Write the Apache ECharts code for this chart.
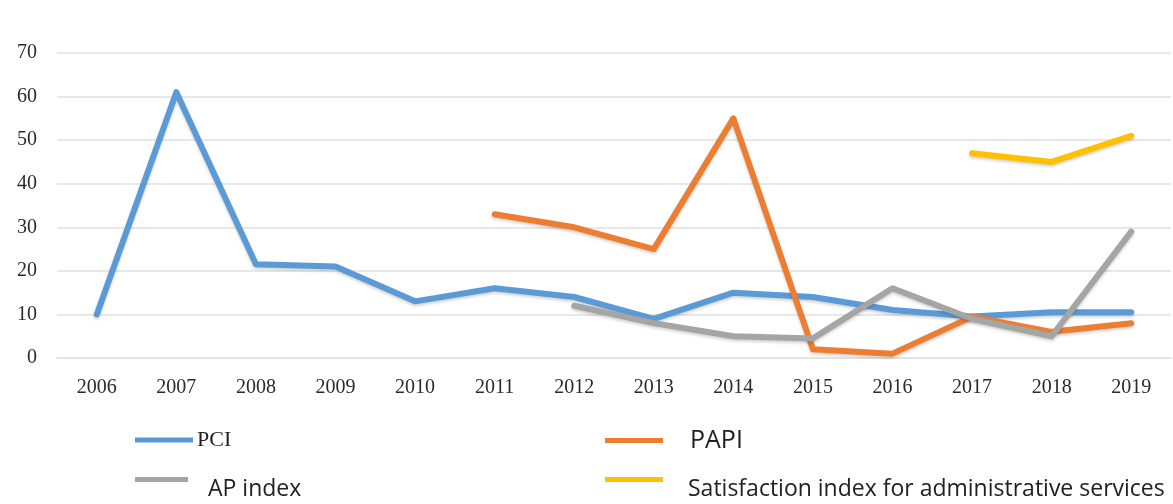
<!DOCTYPE html>
<html>
<head>
<meta charset="utf-8">
<script src="https://cdn.jsdelivr.net/npm/echarts@6/dist/echarts.min.js"></script>
<style>
  html, body { margin: 0; padding: 0; background: #ffffff; }
  #chart { width: 1173px; height: 504px; }
</style>
</head>
<body>
<div id="chart"></div>
<script>
// Years on the horizontal axis
const years = ['2006', '2007', '2008', '2009', '2010', '2011', '2012', '2013', '2014', '2015', '2016', '2017', '2018', '2019'];

// Index values per year (null where an index was not published)
const pci = [10, 61, 21.5, 21, 13, 16, 14, 9, 15, 14, 11, 9.5, 10.5, 10.5];
const papi = [null, null, null, null, null, 33, 30, 25, 55, 2, 1, 9.5, 6, 8];
const apIndex = [null, null, null, null, null, null, 12, 8, 5, 4.5, 16, 9, 5, 29];
const satisfaction = [null, null, null, null, null, null, null, null, null, null, null, 47, 45, 51];

const seriesNames = ['PCI', 'PAPI', 'AP index', 'Satisfaction index for administrative services'];
const colors = ['#5B9BD5', '#ED7D31', '#A5A5A5', '#FFC000'];

const chart = echarts.init(document.getElementById('chart'));

function lineSeries(name, data, color) {
  return {
    name: name,
    type: 'line',
    data: data,
    showSymbol: false,
    symbol: 'none',
    connectNulls: false,
    lineStyle: {
      width: 6,
      color: color,
      join: 'round',
      cap: 'round',
      shadowColor: 'rgba(0,0,0,0.18)',
      shadowBlur: 3,
      shadowOffsetY: 2
    },
    itemStyle: { color: color },
    emphasis: { disabled: true }
  };
}

// Legend swatch: a 5px bar; the raised variant sits the bar at the top of
// a taller box so the label hangs below the swatch's centre line.
function barIcon(w) { return 'path://M0,0 H' + w + ' V5 H0 Z'; }
function raisedBarIcon(w) { return 'path://M0,0 H' + w + ' V5 H0 Z M0,24.9 H0.1 V25 H0 Z'; }

// One legend per entry so each label can carry its own font and offset
function legendAt(name, left, top, icon, iconW, iconH, textStyle) {
  return {
    data: [name],
    left: left,
    top: top,
    padding: 0,
    icon: icon,
    itemWidth: iconW,
    itemHeight: iconH,
    itemGap: 0,
    selectedMode: false,
    textStyle: textStyle
  };
}

const serifLabel = { color: '#2a2a2a', fontFamily: 'Liberation Serif', fontSize: 20 };

const option = {
  backgroundColor: '#ffffff',
  animation: false,
  color: colors,
  grid: { left: 57, right: 2, top: 53, bottom: 146, containLabel: false },
  xAxis: {
    type: 'category',
    data: years,
    boundaryGap: true,
    axisLine: { show: true, lineStyle: { color: '#e3e3e3', width: 2 } },
    axisTick: { show: false },
    axisLabel: Object.assign({ margin: 20 }, serifLabel)
  },
  yAxis: {
    type: 'value',
    min: 0,
    max: 70,
    interval: 10,
    axisLine: { show: false },
    axisTick: { show: false },
    splitLine: { lineStyle: { color: '#e8e8e8', width: 2 } },
    axisLabel: Object.assign({ margin: 20 }, serifLabel)
  },
  legend: [
    legendAt(seriesNames[0], 135, 429, barIcon(58), 58, 5,
      { fontFamily: 'Liberation Serif', fontSize: 22, color: '#222', padding: [0, 0, 0, -1] }),
    legendAt(seriesNames[1], 605, 428, barIcon(58), 58, 5,
      { fontFamily: 'Open Sans', fontSize: 25, color: '#222', padding: [0, 0, 0, 22] }),
    legendAt(seriesNames[2], 135, 477, raisedBarIcon(53), 53, 25,
      { fontFamily: 'Open Sans', fontSize: 23, color: '#222', padding: [0, 0, 0, 15] }),
    legendAt(seriesNames[3], 605, 477, raisedBarIcon(58), 58, 25,
      { fontFamily: 'Open Sans', fontSize: 23, color: '#222', padding: [0, 0, 0, 20] })
  ],
  series: [
    lineSeries(seriesNames[0], pci, colors[0]),
    lineSeries(seriesNames[1], papi, colors[1]),
    lineSeries(seriesNames[2], apIndex, colors[2]),
    lineSeries(seriesNames[3], satisfaction, colors[3])
  ]
};

chart.setOption(option);
</script>
</body>
</html>
